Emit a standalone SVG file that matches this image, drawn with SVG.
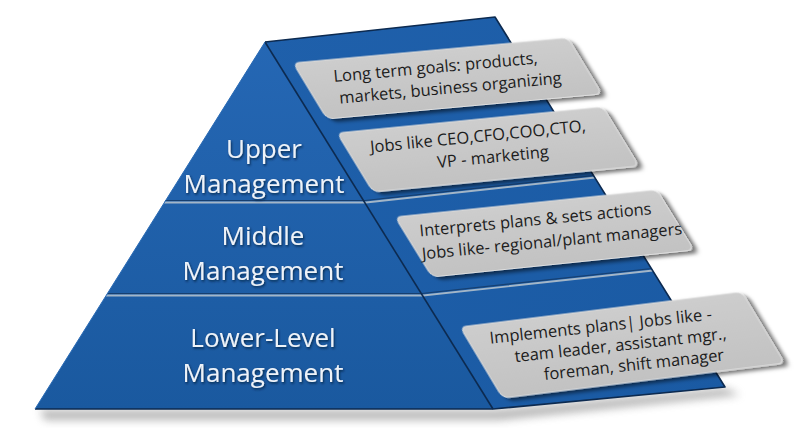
<svg xmlns="http://www.w3.org/2000/svg" width="800" height="428" viewBox="0 0 800 428">
  <defs>
    <linearGradient id="frontGrad" x1="0" y1="0" x2="0" y2="1">
      <stop offset="0" stop-color="#2567b4"/>
      <stop offset="1" stop-color="#1a599f"/>
    </linearGradient>
    <linearGradient id="sideGrad" x1="0" y1="0" x2="1" y2="1">
      <stop offset="0" stop-color="#1f60ab"/>
      <stop offset="1" stop-color="#1a5aa3"/>
    </linearGradient>
    <linearGradient id="boxGrad" x1="0" y1="0" x2="0" y2="1">
      <stop offset="0" stop-color="#cdcdcd"/>
      <stop offset="1" stop-color="#c2c2c2"/>
    </linearGradient>
    <filter id="boxShadow" x="-10%" y="-20%" width="130%" height="150%">
      <feDropShadow dx="3" dy="3" stdDeviation="2" flood-color="#000" flood-opacity="0.55"/>
    </filter>
    <filter id="textShadow" x="-10%" y="-30%" width="120%" height="160%">
      <feDropShadow dx="1" dy="1.5" stdDeviation="0.8" flood-color="#061d3c" flood-opacity="0.85"/>
    </filter>
    <filter id="blur6" x="-20%" y="-100%" width="140%" height="300%">
      <feGaussianBlur stdDeviation="4"/>
    </filter>
  </defs>
  <style>
    .tier { font-family: "Open Sans", "Noto Sans", sans-serif; font-size: 26px; fill: #eef3f9; text-anchor: middle; }
    .note { font-family: "Open Sans", "Noto Sans", sans-serif; font-size: 16.5px; fill: #1c1c1c; text-anchor: middle; }
    .box { fill: url(#boxGrad); stroke: #dedede; stroke-width: 1; }
    .edge { fill: none; stroke: #0c2a50; stroke-width: 1.6; stroke-linejoin: round; }
    .divDark { fill: none; stroke: #163f70; stroke-width: 1.2; }
    .divLight { fill: none; stroke: #a3b6c8; stroke-width: 1.8; }
  </style>

  <rect width="800" height="428" fill="#ffffff"/>

  <g id="pyramid">
    <!-- ground shadow -->
    <polygon points="40,410 495,410 725,388 740,395 500,420 45,420" fill="#7a7a7a" opacity="0.55" filter="url(#blur6)"/>
    <!-- side face -->
    <polygon id="side-face" points="265,42 495,17 725,387 493,409" fill="url(#sideGrad)"/>
    <!-- front face -->
    <polygon id="front-face" points="265,42 493,409 35,409" fill="url(#frontGrad)"/>
    <!-- dividers -->
    <g id="dividers">
      <polyline class="divDark" points="165,200.5 365,200.5 594,175.5"/>
      <polyline class="divLight" points="164,202.5 366,202.5 595,177.5"/>
      <polyline class="divDark" points="107,293.5 422,293.5 652,268.5"/>
      <polyline class="divLight" points="106,295.5 423,295.5 653,270.5"/>
    </g>
    <!-- edges -->
    <polyline class="edge" points="265,42 495,17 725,387 493,409 35,409"/>
    <line class="edge" x1="265" y1="42" x2="493" y2="409"/>
    <line x1="265" y1="42" x2="35" y2="409" stroke="#2a6bb5" stroke-width="1"/>
  </g>

  <g id="tier-upper">
    <text class="tier" filter="url(#textShadow)"><tspan x="264" y="158">Upper</tspan><tspan x="264" y="193">Management</tspan></text>
  </g>
  <g id="tier-middle">
    <text class="tier" filter="url(#textShadow)"><tspan x="263" y="245">Middle</tspan><tspan x="263" y="280">Management</tspan></text>
  </g>
  <g id="tier-lower">
    <text class="tier" filter="url(#textShadow)"><tspan x="263" y="347">Lower-Level</tspan><tspan x="263" y="382">Management</tspan></text>
  </g>

  <g id="note-1">
    <rect class="box" filter="url(#boxShadow)" transform="matrix(1,-0.0909,0.607,1,293,63)" width="275" height="56" rx="6"/>
    <text class="note" transform="translate(445,78) rotate(-5.2)"><tspan x="-8.5" y="-6">Long term goals: products,</tspan><tspan x="4.5" y="16">markets, business organizing</tspan></text>
  </g>
  <g id="note-2">
    <rect class="box" filter="url(#boxShadow)" transform="matrix(1,-0.0977,0.61,1,337,133)" width="266" height="59" rx="6"/>
    <text class="note" transform="translate(485,147) rotate(-5.6)"><tspan x="-6" y="-5.6">Jobs like CEO,CFO,COO,CTO,</tspan><tspan x="6.9" y="16.3">VP - marketing</tspan></text>
  </g>
  <g id="note-3">
    <rect class="box" filter="url(#boxShadow)" transform="matrix(1,-0.103,0.617,1,395,217)" width="262" height="60" rx="6"/>
    <text class="note" transform="translate(545,231) rotate(-5.5)"><tspan x="-8.4" y="-6.5">Interprets plans &amp; sets actions</tspan><tspan x="5.9" y="16.5">Jobs like- regional/plant managers</tspan></text>
  </g>
  <g id="note-4">
    <rect class="box" filter="url(#boxShadow)" transform="matrix(1,-0.124,0.6,1,460,327)" width="282" height="71" rx="6"/>
    <text class="note" transform="translate(622,345) rotate(-6.2)"><tspan x="-19.3" y="-15.5">Implements plans| Jobs like -</tspan><tspan x="-1.6" y="5.5">team leader, assistant mgr.,</tspan><tspan x="9.7" y="26.5">foreman, shift manager</tspan></text>
  </g>
</svg>
